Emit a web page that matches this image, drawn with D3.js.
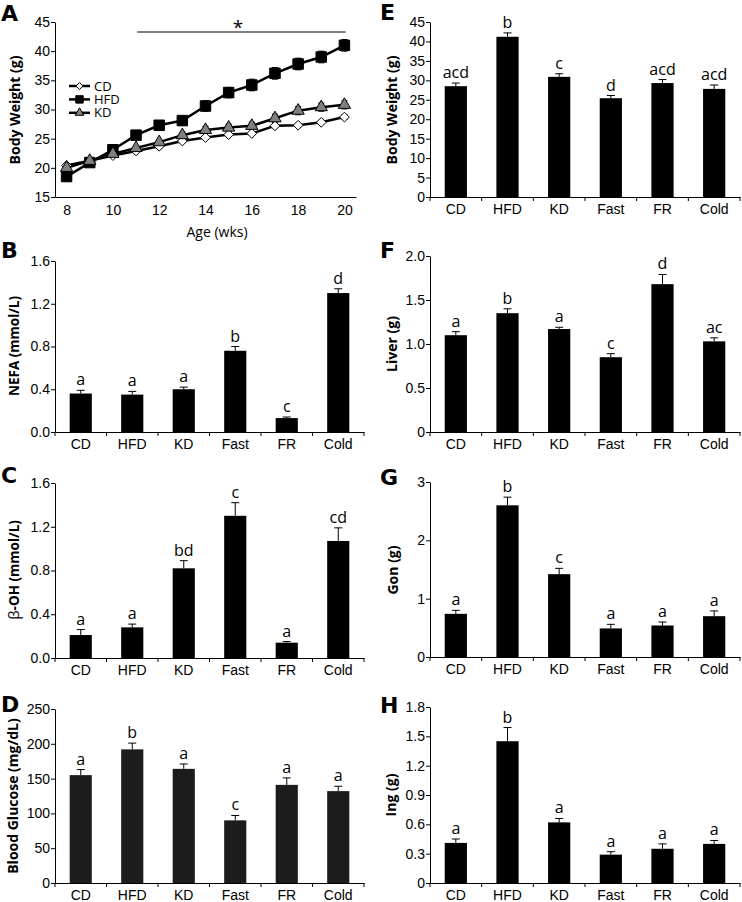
<!DOCTYPE html>
<html>
<head>
<meta charset="utf-8">
<script src="https://cdn.jsdelivr.net/npm/d3@7"></script>
<style>
  body { margin: 0; background: #fff; }
  svg { display: block; font-family: 'Open Sans', sans-serif; }
</style>
</head>
<body>
<div id="chart"></div>
<script>
// ---- data ----
var groups = ['CD', 'HFD', 'KD', 'Fast', 'FR', 'Cold'];

var weeks = [8, 9, 10, 11, 12, 13, 14, 15, 16, 17, 18, 19, 20];
var cdWeight  = [20.4, 21.2, 22.1, 22.9, 23.7, 24.6, 25.2, 25.7, 25.9, 27.2, 27.3, 27.8, 28.7];
var cdErr     = [0.3, 0.3, 0.3, 0.3, 0.3, 0.3, 0.3, 0.3, 0.3, 0.3, 0.3, 0.3, 0.4];
var hfdWeight = [18.5, 20.9, 23.1, 25.6, 27.3, 28.1, 30.6, 32.9, 34.2, 36.2, 37.8, 39.0, 41.0];
var hfdErr    = [0.4, 0.4, 0.5, 0.5, 0.5, 0.5, 0.9, 0.9, 1.0, 1.0, 1.0, 1.0, 1.0];
var kdWeight  = [20.0, 21.2, 22.4, 23.4, 24.4, 25.6, 26.5, 26.9, 27.2, 28.5, 29.8, 30.4, 30.8];
var kdErr     = [0.3, 0.3, 0.3, 0.4, 0.4, 0.5, 0.6, 0.6, 0.6, 0.7, 0.7, 0.7, 0.7];

var nefaMean = [0.36, 0.35, 0.40, 0.76, 0.13, 1.30];
var nefaErr  = [0.03, 0.03, 0.02, 0.04, 0.01, 0.04];
var nefaSig  = ['a', 'a', 'a', 'b', 'c', 'd'];

var bohMean = [0.21, 0.28, 0.82, 1.30, 0.14, 1.07];
var bohErr  = [0.05, 0.03, 0.07, 0.12, 0.01, 0.12];
var bohSig  = ['a', 'a', 'bd', 'c', 'a', 'cd'];

var glucMean = [155, 192, 164, 90, 141, 132];
var glucErr  = [8, 9, 7, 7, 10, 7];
var glucSig  = ['a', 'b', 'a', 'c', 'a', 'a'];

var bwMean = [28.5, 41.2, 30.9, 25.4, 29.3, 27.8];
var bwErr  = [0.8, 1.0, 0.8, 0.7, 0.9, 1.0];
var bwSig  = ['acd', 'b', 'c', 'd', 'acd', 'acd'];

var liverMean = [1.10, 1.35, 1.17, 0.85, 1.68, 1.03];
var liverErr  = [0.04, 0.05, 0.02, 0.04, 0.11, 0.04];
var liverSig  = ['a', 'b', 'a', 'c', 'd', 'ac'];

var gonMean = [0.74, 2.60, 1.42, 0.49, 0.54, 0.70];
var gonErr  = [0.06, 0.14, 0.10, 0.07, 0.06, 0.09];
var gonSig  = ['a', 'b', 'c', 'a', 'a', 'a'];

var ingMean = [0.41, 1.45, 0.62, 0.29, 0.35, 0.40];
var ingErr  = [0.04, 0.14, 0.04, 0.03, 0.05, 0.035];
var ingSig  = ['a', 'b', 'a', 'a', 'a', 'a'];

var weightTicks = [15, 20, 25, 30, 35, 40, 45];
var weekTicks = [8, 10, 12, 14, 16, 18, 20];

// ---- drawing ----
var width = 742, height = 902;
var svg = d3.select('#chart').append('svg')
  .attr('width', width).attr('height', height);

var letter = function(txt, x, y){
  svg.append('text')
    .attr('x', x).attr('y', y)
    .style('font-family', "'DejaVu Sans', sans-serif")
    .style('font-weight', 'bold')
    .style('font-size', '22px')
    .text(txt);
};

var yTitle = function(txt, x, y, size){
  return svg.append('text')
    .attr('transform', 'translate(' + x + ',' + y + ') rotate(-90)')
    .attr('text-anchor', 'middle')
    .style('font-weight', 'bold')
    .style('font-size', (size || 14) + 'px')
    .text(txt);
};

var styleAxis = function(g, size){
  g.select('.domain').attr('stroke', '#000');
  g.selectAll('.tick line').attr('stroke', '#000');
  g.selectAll('.tick text').attr('fill', '#000').style('font-size', (size || 14) + 'px');
};

var barPanel = function(opt){
  var x = d3.scaleBand().domain(groups).range([opt.x0, opt.x1]).paddingInner(0.57).paddingOuter(0.285);
  var y = d3.scaleLinear().domain([0, opt.max]).range([opt.y0, opt.y1]);

  var gx = svg.append('g')
    .attr('transform', 'translate(0,' + opt.y0 + ')')
    .call(d3.axisBottom(x).tickSize(0).tickPadding(7));
  styleAxis(gx);
  // separators between categories
  var step = x.step();
  var seps = d3.range(groups.length + 1).map(function(i){ return opt.x0 + i * step; });
  gx.selectAll('.sep').data(seps).enter().append('line')
    .attr('x1', function(d){ return d; }).attr('x2', function(d){ return d; })
    .attr('y1', 0).attr('y2', 4).attr('stroke', '#000');

  var gy = svg.append('g')
    .attr('transform', 'translate(' + opt.x0 + ',0)')
    .call(d3.axisLeft(y).tickValues(opt.ticks).tickFormat(opt.fmt).tickSize(4).tickPadding(1).tickSizeOuter(0));
  styleAxis(gy);

  var data = groups.map(function(g, i){
    return {g: g, v: opt.mean[i], e: opt.err[i], s: opt.sig[i]};
  });

  svg.selectAll(null).data(data).enter().append('rect')
    .attr('x', function(d){ return x(d.g); })
    .attr('y', function(d){ return y(d.v); })
    .attr('width', x.bandwidth())
    .attr('height', function(d){ return opt.y0 - y(d.v); })
    .attr('fill', opt.fill || '#000');

  var cx = function(d){ return x(d.g) + x.bandwidth() / 2; };
  svg.selectAll(null).data(data).enter().append('path')
    .attr('d', function(d){
      var top = y(d.v + d.e);
      return 'M' + cx(d) + ',' + y(d.v) + 'V' + top + 'M' + (cx(d) - 4) + ',' + top + 'H' + (cx(d) + 4);
    })
    .attr('stroke', '#000').attr('fill', 'none');

  svg.selectAll(null).data(data).enter().append('text')
    .attr('x', cx)
    .attr('y', function(d){ return y(d.v + d.e) - 5; })
    .attr('text-anchor', 'middle')
    .style('font-size', '16px')
    .text(function(d){ return d.s; });
};

// diamond as a square turned 45 degrees
var diamond = {
  draw: function(ctx, size){
    var r = Math.sqrt(size) / Math.SQRT2 * 1.0;
    ctx.moveTo(0, -r); ctx.lineTo(r, 0); ctx.lineTo(0, r); ctx.lineTo(-r, 0); ctx.closePath();
  }
};

// ---- panel A: line chart ----
(function(){
  var x0 = 55, x1 = 356, y0 = 197, y1 = 22;
  var x = d3.scaleLinear().domain([7.5, 20.5]).range([x0, x1]);
  var y = d3.scaleLinear().domain([15, 45]).range([y0, y1]);

  var gx = svg.append('g').attr('transform', 'translate(0,' + y0 + ')')
    .call(d3.axisBottom(x).tickValues(weekTicks).tickSize(0).tickPadding(8).tickSizeOuter(0));
  styleAxis(gx);

  var gy = svg.append('g').attr('transform', 'translate(' + x0 + ',0)')
    .call(d3.axisLeft(y).tickValues(weightTicks).tickSize(4).tickPadding(1).tickSizeOuter(0));
  styleAxis(gy);

  svg.append('text').attr('x', 217).attr('y', 237).attr('text-anchor', 'middle')
    .style('font-size', '14px').text('Age (wks)');
  yTitle('Body Weight (g)', 20, 110);

  // significance bar
  svg.append('line').attr('x1', x(11.05)).attr('x2', x(20.05)).attr('y1', 32).attr('y2', 32)
    .attr('stroke', '#000').attr('stroke-width', 1.2);
  svg.append('text').attr('x', 238).attr('y', 34).attr('text-anchor', 'middle')
    .style('font-size', '19px').text('*');

  var series = [
    {name: 'CD', vals: cdWeight, err: cdErr, shape: diamond, fill: '#fff', size: 48},
    {name: 'HFD', vals: hfdWeight, err: hfdErr, shape: d3.symbolSquare, fill: '#000', size: 110},
    {name: 'KD', vals: kdWeight, err: kdErr, shape: d3.symbolTriangle, fill: '#808080', size: 65}
  ];
  var line = d3.line().x(function(d){ return x(d[0]); }).y(function(d){ return y(d[1]); });

  series.forEach(function(s){
    var pts = weeks.map(function(w, i){ return [w, s.vals[i], s.err[i]]; });
    svg.append('g').selectAll('path').data(pts).enter().append('path')
      .attr('d', function(d){
        var a = y(d[1] + d[2]), b = y(d[1] - d[2]), cx = x(d[0]);
        return 'M' + cx + ',' + a + 'V' + b + 'M' + (cx - 3) + ',' + a + 'H' + (cx + 3) + 'M' + (cx - 3) + ',' + b + 'H' + (cx + 3);
      })
      .attr('stroke', '#000').attr('fill', 'none');
    svg.append('path').datum(pts).attr('d', line)
      .attr('fill', 'none').attr('stroke', '#000').attr('stroke-width', 2.5);
  });
  series.forEach(function(s){
    var pts = weeks.map(function(w, i){ return [w, s.vals[i]]; });
    svg.append('g').selectAll('path').data(pts).enter().append('path')
      .attr('transform', function(d){ return 'translate(' + x(d[0]) + ',' + y(d[1]) + ')'; })
      .attr('d', d3.symbol().type(s.shape).size(s.size))
      .attr('fill', s.fill).attr('stroke', '#000').attr('stroke-width', 1);
  });

  // legend
  var leg = svg.append('g');
  series.forEach(function(s, i){
    var ly = 86 + i * 13.4;
    leg.append('line').attr('x1', 69).attr('x2', 90).attr('y1', ly).attr('y2', ly)
      .attr('stroke', '#000').attr('stroke-width', 2.5);
    leg.append('path').attr('transform', 'translate(79.5,' + ly + ')')
      .attr('d', d3.symbol().type(s.shape).size(s.size * 0.5))
      .attr('fill', s.fill).attr('stroke', '#000');
    leg.append('text').attr('x', 94).attr('y', ly + 4.5).style('font-size', '13px').text(s.name);
  });
})();

// ---- bar panels ----
var oneDec = d3.format('.1f');
var zeroPlain = function(d){ return d === 0 ? '0' : oneDec(d); };

barPanel({x0: 55, x1: 364, y0: 432, y1: 261, max: 1.6, ticks: [0, 0.4, 0.8, 1.2, 1.6], fmt: oneDec,
  mean: nefaMean, err: nefaErr, sig: nefaSig});
yTitle('NEFA (mmol/L)', 19, 346, 13.5);

barPanel({x0: 55, x1: 364, y0: 658, y1: 483, max: 1.6, ticks: [0, 0.4, 0.8, 1.2, 1.6], fmt: oneDec,
  mean: bohMean, err: bohErr, sig: bohSig});
var bt = yTitle('', 19, 570, 13.5);
bt.append('tspan').style('font-weight', 'normal').style('font-size', '15px').text('\u03B2');
bt.append('tspan').text('-OH (mmol/L)');

barPanel({x0: 55, x1: 364, y0: 883, y1: 709, max: 250, ticks: [0, 50, 100, 150, 200, 250], fmt: d3.format('d'),
  mean: glucMean, err: glucErr, sig: glucSig, fill: '#1c1c1c'});
yTitle('Blood Glucose (mg/dL)', 18, 796);

barPanel({x0: 430, x1: 740, y0: 197, y1: 22, max: 45, ticks: d3.range(0, 46, 5), fmt: d3.format('d'),
  mean: bwMean, err: bwErr, sig: bwSig});
yTitle('Body Weight (g)', 397, 110);

barPanel({x0: 430, x1: 740, y0: 432, y1: 256, max: 2.0, ticks: [0, 0.5, 1.0, 1.5, 2.0], fmt: zeroPlain,
  mean: liverMean, err: liverErr, sig: liverSig});
yTitle('Liver (g)', 397, 344);

barPanel({x0: 430, x1: 740, y0: 657, y1: 482, max: 3, ticks: [0, 1, 2, 3], fmt: d3.format('d'),
  mean: gonMean, err: gonErr, sig: gonSig});
yTitle('Gon (g)', 398, 570);

barPanel({x0: 430, x1: 740, y0: 883, y1: 707, max: 1.8, ticks: [0, 0.3, 0.6, 0.9, 1.2, 1.5, 1.8], fmt: zeroPlain,
  mean: ingMean, err: ingErr, sig: ingSig});
yTitle('Ing (g)', 396, 795);

// ---- panel letters ----
letter('A', 1, 21);
letter('B', 1, 258);
letter('C', 1, 483);
letter('D', 1, 712);
letter('E', 380, 20);
letter('F', 380, 258);
letter('G', 380, 485);
letter('H', 380, 713);
</script>
</body>
</html>
